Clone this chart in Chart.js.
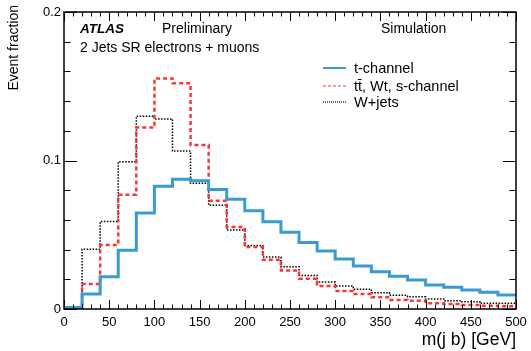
<!DOCTYPE html>
<html>
<head>
<meta charset="utf-8">
<script src="https://cdn.jsdelivr.net/npm/chart.js@4"></script>
<style>
  html, body { margin: 0; padding: 0; background: #fff; }
  #wrap { width: 531px; height: 351px; }
</style>
</head>
<body>
<div id="wrap"><canvas id="chart" width="531" height="351"></canvas></div>
<script>
// bin edges of m(j b) in GeV, 20 GeV bins
const binEdges = [0, 20, 40, 60, 80, 100, 120, 140, 160, 180, 200, 220, 240,
  260, 280, 300, 320, 340, 360, 380, 400, 420, 440, 460, 480, 500];

// event fraction per bin
const tChannel = [0.001, 0.0101, 0.0218, 0.0395, 0.0647, 0.0826, 0.0874, 0.0863,
  0.0804, 0.0739, 0.0662, 0.0588, 0.0516, 0.0447, 0.039, 0.0337, 0.029, 0.0251,
  0.022, 0.0195, 0.0162, 0.0146, 0.0128, 0.0112, 0.0094];
const ttbarWtS = [0.0005, 0.0168, 0.0431, 0.077, 0.1222, 0.1553, 0.152, 0.1104,
  0.0729, 0.0552, 0.0417, 0.0332, 0.026, 0.0204, 0.0155, 0.0121, 0.0101, 0.0079,
  0.0061, 0.0056, 0.0038, 0.0034, 0.0027, 0.0022, 0.0018];
const wJets = [0.001, 0.0403, 0.059, 0.0992, 0.1298, 0.128, 0.1064, 0.0846,
  0.0698, 0.0532, 0.0428, 0.035, 0.0285, 0.0226, 0.0181, 0.0155, 0.0133, 0.011,
  0.0092, 0.0083, 0.0067, 0.0056, 0.0049, 0.0038, 0.0038];

const yLabels = [0, 0.1, 0.2];
const seriesNames = ['t-channel', 't\u0074\u0304, Wt, s-channel', 'W+jets'];

const FONT = '"Liberation Sans", Arial, sans-serif';

// step points: one per lower edge, plus closing point at last edge
function histPoints(vals) {
  const pts = vals.map((v, i) => ({ x: binEdges[i], y: v }));
  pts.push({ x: binEdges[binEdges.length - 1], y: vals[vals.length - 1] });
  return pts;
}

// frame, inward ticks, texts and legend
const atlasDecor = {
  id: 'atlasDecor',
  afterDraw(chart) {
    const { ctx, chartArea: a, scales: { x, y } } = chart;
    ctx.save();
    ctx.strokeStyle = '#000';
    ctx.lineWidth = 1.5;
    ctx.strokeRect(a.left, a.top, a.right - a.left, a.bottom - a.top);

    ctx.lineWidth = 1;
    ctx.beginPath();
    for (let v = 0; v <= 500; v += 10) {
      const px = Math.round(x.getPixelForValue(v)) + 0.5;
      const len = v % 50 === 0 ? 9 : 4.5;
      ctx.moveTo(px, a.bottom); ctx.lineTo(px, a.bottom - len);
      ctx.moveTo(px, a.top); ctx.lineTo(px, a.top + len);
    }
    for (let k = 0; k <= 10; k++) {
      const v = k * 0.02;
      const py = Math.round(y.getPixelForValue(v)) + 0.5;
      const len = k % 5 === 0 ? 13 : 6.5;
      ctx.moveTo(a.left, py); ctx.lineTo(a.left + len, py);
      ctx.moveTo(a.right, py); ctx.lineTo(a.right - len, py);
    }
    ctx.stroke();

    ctx.fillStyle = '#000';
    ctx.textBaseline = 'alphabetic';
    ctx.textAlign = 'left';
    ctx.font = 'italic bold 13.5px ' + FONT;
    ctx.fillText('ATLAS', 80, 33);
    ctx.font = '14px ' + FONT;
    ctx.fillText('Preliminary', 162, 33);
    ctx.fillText('Simulation', 381, 33);
    ctx.fillText('2 Jets SR electrons + muons', 80, 52);

    // axis titles
    ctx.font = '17.5px ' + FONT;
    ctx.textAlign = 'right';
    ctx.fillText('m(j b) [GeV]', a.right, 345);
    ctx.save();
    ctx.translate(18, 5);
    ctx.rotate(-Math.PI / 2);
    ctx.font = '14px ' + FONT;
    ctx.textAlign = 'right';
    ctx.fillText('Event fraction', 0, 0);
    ctx.restore();

    // legend
    ctx.font = '14.5px ' + FONT;
    ctx.textAlign = 'left';
    const rows = [68, 86, 102];
    chart.data.datasets.forEach((ds, i) => {
      const ly = rows[i];
      ctx.beginPath();
      ctx.strokeStyle = ds.borderColor;
      ctx.lineWidth = i === 0 ? 2 : 1.2;
      ctx.setLineDash(i === 0 ? [] : (i === 1 ? [3, 2] : [1, 1]));
      ctx.moveTo(323, ly); ctx.lineTo(346, ly);
      ctx.stroke();
      ctx.setLineDash([]);
      ctx.fillStyle = '#000';
      ctx.fillText(ds.label, 354, ly + 5);
    });
    ctx.restore();
  }
};

new Chart(document.getElementById('chart'), {
  type: 'line',
  data: {
    datasets: [
      {
        label: seriesNames[0],
        data: histPoints(tChannel),
        borderColor: '#399bd0',
        borderWidth: 3,
        stepped: 'before'
      },
      {
        label: seriesNames[1],
        data: histPoints(ttbarWtS),
        borderColor: '#ff3333',
        borderWidth: 2.5,
        borderDash: [4, 3],
        stepped: 'before'
      },
      {
        label: seriesNames[2],
        data: histPoints(wJets),
        borderColor: '#000000',
        borderWidth: 1.5,
        borderDash: [1.5, 1.5],
        stepped: 'before'
      }
    ]
  },
  options: {
    responsive: false,
    animation: false,
    layout: { padding: { left: 0, right: 15, top: 12, bottom: 0 } },
    elements: { point: { radius: 0 }, line: { tension: 0, fill: false } },
    plugins: { legend: { display: false }, tooltip: { enabled: false } },
    scales: {
      x: {
        type: 'linear',
        min: 0,
        max: 500,
        grid: { display: false, drawTicks: false },
        border: { display: false },
        ticks: {
          stepSize: 50,
          padding: 6,
          maxRotation: 0,
          color: '#000',
          font: { family: FONT, size: 13 }
        },
        afterFit(scale) {
          scale.height = 42;
          scale.paddingLeft = 0;
          scale.paddingRight = 0;
        }
      },
      y: {
        min: 0,
        max: 0.2,
        grid: { display: false, drawTicks: false },
        border: { display: false },
        ticks: {
          stepSize: 0.1,
          padding: 3,
          color: '#000',
          font: { family: FONT, size: 13 },
          callback: (v) => yLabels.includes(Math.round(v * 10) / 10) ? String(Math.round(v * 10) / 10) : ''
        },
        afterFit(scale) {
          scale.width = 64;
          scale.paddingTop = 0;
          scale.paddingBottom = 0;
        }
      }
    }
  },
  plugins: [atlasDecor]
});
</script>
</body>
</html>
